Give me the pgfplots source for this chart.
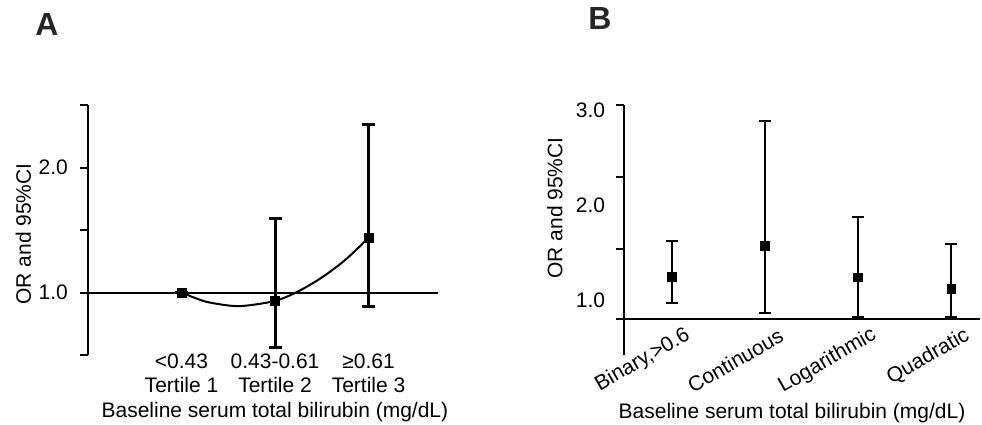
\documentclass[border=0pt]{standalone}
\usepackage{fontspec}
\setmainfont{Liberation Sans}
\usepackage{pgfplots}
\pgfplotsset{compat=1.18}
\usepackage{pgfplotstable}

% panel A: tertiles, OR with 95% CI (tertile 1 is the reference)
\pgfplotstableread{
x y    ep    em
1 1.0   0     0
2 0.933 0.657 0.375
3 1.437 0.909 0.552
}\tertiles

% trend curve through the tertile estimates
\pgfplotstableread{
x     y
1     1.0
1.15  0.955
1.3   0.92
1.617 0.891
2     0.933
2.25  1.01
2.5   1.12
2.75  1.26
3     1.437
}\trend

% panel B: the four models
\pgfplotstableread{
x y     ep    em
1 1.253 0.375 0.280
2 1.576 1.319 0.709
3 1.246 0.632 0.414
4 1.126 0.468 0.301
}\models

\begin{document}
\begin{tikzpicture}
\path[use as bounding box] (0,0) rectangle (982bp,-425bp);
\pgfplotsset{
  panel/.style={
    scale only axis, clip=false,
    height=250bp,
    axis lines=left, axis line style={-, line width=2bp},
    x axis line style={draw=none},
    tick align=outside, major tick length=8bp,
    every tick/.style={black, line width=2bp},
    xtick style={draw=none},
    tick label style={font=\fontsize{21bp}{24bp}\selectfont, text=black},
    label style={font=\fontsize{21bp}{24bp}\selectfont, text=black},
    /pgf/number format/assume math mode=true,
  },
}

\begin{axis}[panel,
  at={(88bp,-355bp)}, anchor=south west, width=350bp,
  xmin=0, xmax=3.743, ymin=0.5, ymax=2.5,
  xtick={1,2,3},
  xticklabels={{<0.43\\Tertile 1},{0.43-0.61\\Tertile 2},{≥0.61\\Tertile 3}},
  xticklabel style={align=center, inner sep=0pt, anchor=north, yshift=9bp},
  ytick={0.5,1,1.5,2,2.5}, yticklabels={,1.0,,2.0,},
  yticklabel style={inner sep=0pt, xshift=-12bp},
  xlabel={Baseline serum total bilirubin (mg/dL)},
  xlabel style={at={(axis description cs:0.534,-0.228)}, anchor=center},
  ylabel={OR and 95\%CI},
  ylabel style={at={(axis description cs:-0.185,0.484)}, anchor=center},
]
\addplot[black, line width=2bp] coordinates {(0,1) (3.743,1)};
\addplot[black, line width=2bp, smooth, no marks] table {\trend};
\addplot[black, only marks, mark=square*, mark size=4.5bp,
  mark options={line width=0.5bp},
  error bars/.cd, y dir=both, y explicit,
  error bar style={line width=3bp},
  error mark options={line width=3bp, mark size=6.5bp, rotate=90}]
  table[x=x, y=y, y error plus=ep, y error minus=em] {\tertiles};
\end{axis}

\begin{axis}[panel,
  at={(624.3bp,-355bp)}, anchor=south west, width=355.7bp,
  xmin=0.49, xmax=4.31, ymin=0.4284, ymax=3.06,
  xtick={1,2,3,4},
  xticklabels={{Binary,>0.6},Continuous,Logarithmic,Quadratic},
  xticklabel style={rotate=30, anchor=east, inner sep=0pt, xshift=29bp, yshift=17bp},
  ytick={0.804,1.544,2.299,3.06}, yticklabels={,,,},
  extra y ticks={1,2,3}, extra y tick labels={1.0,2.0,3.0},
  extra y tick style={major tick length=0pt, yticklabel style={inner sep=0pt, xshift=-19bp}},
  xlabel={Baseline serum total bilirubin (mg/dL)},
  xlabel style={at={(axis description cs:0.4715,-0.232)}, anchor=center},
  ylabel={OR and 95\%CI},
  ylabel style={at={(axis description cs:-0.195,0.588)}, anchor=center},
]
\addplot[black, line width=2bp] coordinates {(0.49,0.804) (4.31,0.804)};
\addplot[black, only marks, mark=square*, mark size=4.3bp,
  mark options={line width=0.5bp},
  error bars/.cd, y dir=both, y explicit,
  error bar style={line width=2bp},
  error mark options={line width=2bp, mark size=6bp, rotate=90}]
  table[x=x, y=y, y error plus=ep, y error minus=em] {\models};
\end{axis}

\node[font=\fontsize{32bp}{32bp}\selectfont\bfseries, text=black!85] at (47bp,-24bp) {A};
\node[font=\fontsize{32bp}{32bp}\selectfont\bfseries, text=black!85] at (600bp,-18.5bp) {B};
\end{tikzpicture}
\end{document}
